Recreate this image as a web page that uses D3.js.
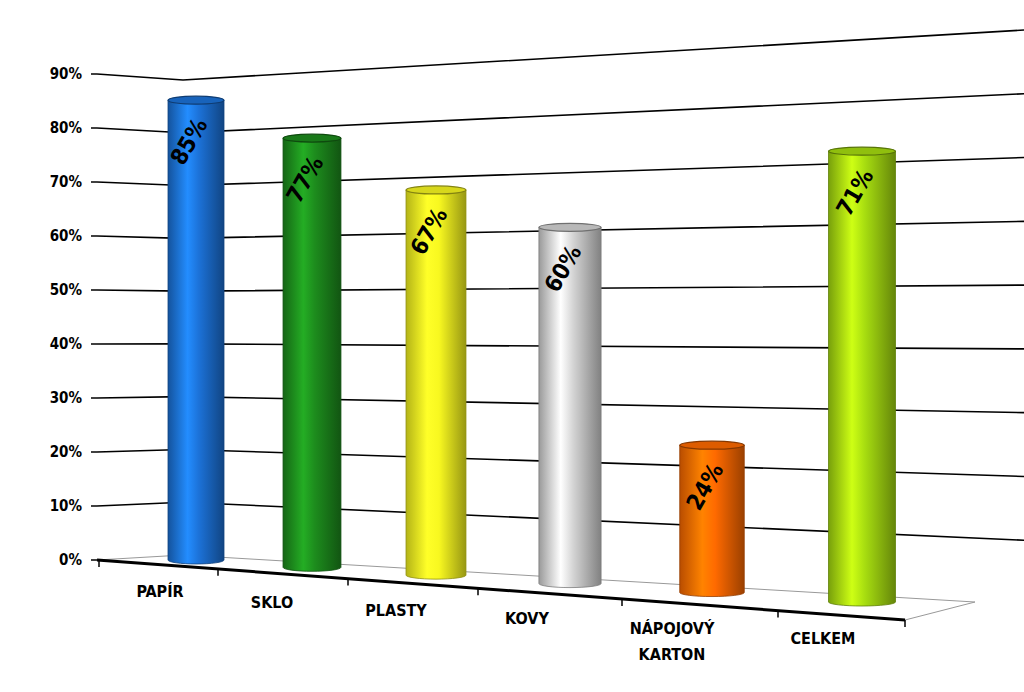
<!DOCTYPE html><html><head><meta charset="utf-8">
<script src="https://cdn.jsdelivr.net/npm/d3@7"></script>
<style>body{margin:0;background:#fff}svg{display:block}</style></head><body>
<script>
const categories=["PAPÍR","SKLO","PLASTY","KOVY","NÁPOJOVÝ|KARTON","CELKEM"];
const values=[85,77,67,60,24,71];
const colors=["#1c72d8","#1d8c1d","#f8f820","#d4d4d4","#ff6a00","#a6dc10"];
const ticks=[0,10,20,30,40,50,60,70,80,90];
const W=1024,H=692,F="'DejaVu Sans Condensed','Liberation Sans Narrow',sans-serif";
const svg=d3.select("body").append("svg").attr("width",W).attr("height",H);
const defs=svg.append("defs");
const yL=d3.scaleLinear().domain([0,90]).range([560,74]);
const yK=d3.scaleLinear().domain([0,90]).range([555,80]);
const yR=d3.scaleLinear().domain([0,90]).range([604,30]);
ticks.forEach(t=>{
  const pts=t===0?`97,${yL(t)} 183,${yK(t)} 975,602`:`97,${yL(t)} 183,${yK(t)} 1024,${yR(t)}`;
  svg.append("polyline").attr("points",pts)
    .attr("fill","none").attr("stroke",t===0?"#999":"#000").attr("stroke-width",t===0?1:1.6);
  svg.append("line").attr("x1",91).attr("x2",97).attr("y1",yL(t)).attr("y2",yL(t)).attr("stroke","#000").attr("stroke-width",1.5);
  svg.append("text").attr("x",82).attr("y",yL(t)+5).attr("text-anchor","end")
    .attr("font-family",F).attr("font-weight","bold").attr("font-size",15).text(t+"%");
});
svg.append("line").attr("x1",975).attr("y1",602).attr("x2",905).attr("y2",620).attr("stroke","#999");
// perspective band boundaries along front floor edge
const xBand=d3.scaleLinear().domain([0,1,2,3,4,5,6]).range([99,218,348,478,622,778,905]);
const yFront=x=>560+(x-99)*(60/806);
svg.append("line").attr("x1",97).attr("y1",560).attr("x2",905).attr("y2",620).attr("stroke","#000").attr("stroke-width",3);
d3.range(7).forEach(i=>{const x=xBand(i);svg.append("line").attr("x1",x).attr("x2",x).attr("y1",yFront(x)).attr("y2",yFront(x)+7).attr("stroke","#000").attr("stroke-width",1.5);});
const cx=d3.scaleLinear().domain([0,1,2,3,4,5]).range([196,312,436,570,712,862]);
const kS=d3.scaleLinear().domain([196,862]).range([5.41,6.35]);
const bot=d3.scaleLinear().domain([196,862]).range([560,602]);
const bw=d3.scaleLinear().domain([196,862]).range([56,67]);
values.forEach((v,i)=>{
  const x=cx(i),b=bot(x),t=b-v*kS(x),w=bw(x),rx=w/2,ry=4;
  const c=d3.color(colors[i]);
  const g=defs.append("linearGradient").attr("id","g"+i);
  [[0,c.darker(0.9)],[0.35,c.brighter(0.6)],[0.55,c],[1,c.darker(1.4)]].forEach(([o,col])=>g.append("stop").attr("offset",o).attr("stop-color",col));
  svg.append("path").attr("d",`M${x-rx},${t} L${x-rx},${b} A${rx},${ry} 0 0 0 ${x+rx},${b} L${x+rx},${t} Z`)
    .attr("fill",`url(#g${i})`).attr("stroke",c.darker(1.5)).attr("stroke-width",0.8);
  svg.append("ellipse").attr("cx",x).attr("cy",t).attr("rx",rx).attr("ry",ry).attr("fill",c.darker(0.4)).attr("stroke",c.darker(1.8)).attr("stroke-width",1.2);
  svg.append("text").attr("transform",`translate(${x-6},${t+42}) rotate(-60)`)
    .attr("font-family",F).attr("font-weight","bold").attr("font-size",23).attr("text-anchor","middle").attr("dominant-baseline","middle").text(v+"%");
});
const lx=[160,272,396,527,672,823],ly=[597,608,616,624,634,644];
categories.forEach((c,i)=>{
  c.split("|").forEach((s,j)=>svg.append("text").attr("x",lx[i]).attr("y",ly[i]+j*26).attr("text-anchor","middle")
    .attr("font-family",F).attr("font-weight","bold").attr("font-size",16).text(s));
});
</script></body></html>
